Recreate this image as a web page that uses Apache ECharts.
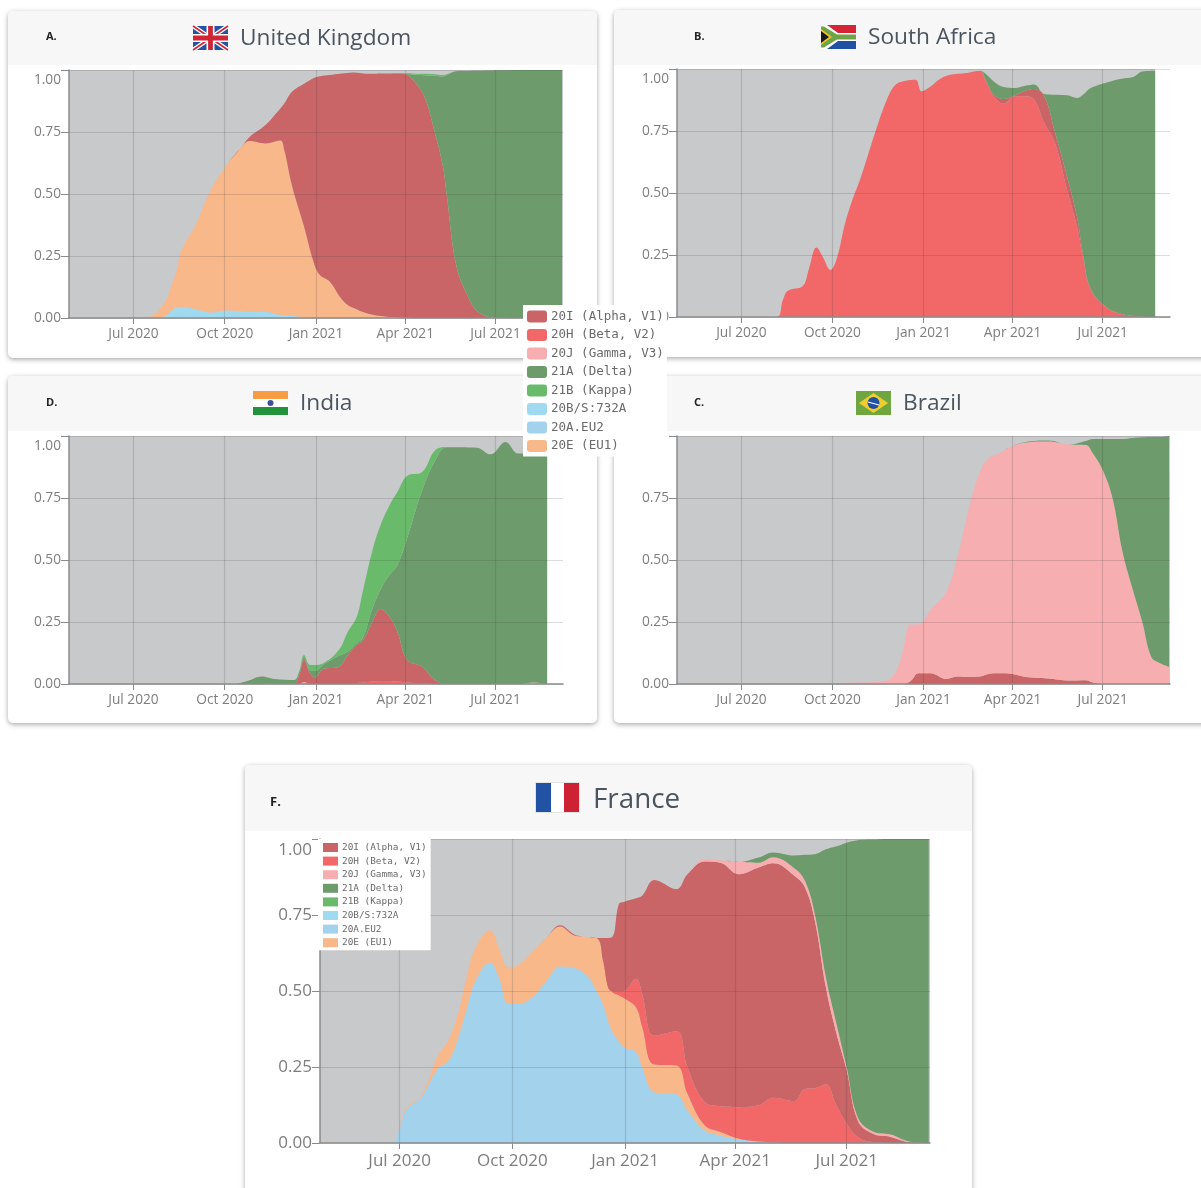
<!DOCTYPE html>
<html><head><meta charset="utf-8">
<style>html,body{margin:0;padding:0;background:#fff}#c{width:1201px;height:1188px}</style>
<script src="https://cdn.jsdelivr.net/npm/echarts@6/dist/echarts.min.js"></script></head>
<body><div id="c"></div>
<script>
const legendNames = ['20I (Alpha, V1)','20H (Beta, V2)','20J (Gamma, V3)','21A (Delta)','21B (Kappa)','20B/S:732A','20A.EU2','20E (EU1)'];
const tickDates = ['2020-07-01','2020-10-01','2021-01-01','2021-04-01','2021-07-01'];
const tickLabels = ['Jul 2020','Oct 2020','Jan 2021','Apr 2021','Jul 2021'];

const ukDates = ['2020-05-01','2020-07-13','2020-08-01','2020-08-09','2020-08-14','2020-08-18','2020-09-01','2020-09-17','2020-10-03','2020-10-18','2020-10-26','2020-11-11','2020-11-26','2020-11-30','2020-12-08','2020-12-20','2020-12-30','2021-01-05','2021-01-15','2021-01-25','2021-02-02','2021-02-08','2021-02-21','2021-03-13','2021-03-27','2021-04-03','2021-04-13','2021-04-21','2021-05-01','2021-05-09','2021-05-13','2021-05-22','2021-06-01','2021-06-15','2021-07-06','2021-08-10','2021-09-06'];
const ukS732A = [0,0,.006,.03,.044,.044,.036,.022,.03,.027,.024,.024,.012,.011,.008,.004,.001,0,0,0,0,0,0,0,0,0,0,0,0,0,0,0,0,0,0,0,0];
const ukEU1 = [0,0,.054,.11,.156,.226,.334,.494,.587,.663,.69,.68,.704,.666,.522,.364,.219,.173,.146,.086,.052,.04,.019,.005,.002,.001,0,0,0,0,0,0,0,0,0,0,0];
const ukAlpha = [0,0,0,0,0,0,0,0,0,0,.016,.074,.129,.188,.383,.577,.748,.802,.834,.899,.936,.95,.966,.981,.984,.979,.94,.886,.745,.61,.489,.22,.106,.019,.001,0,0];
const ukDelta = [0,0,0,0,0,0,0,0,0,0,0,0,0,0,0,0,0,0,0,0,0,0,0,0,.001,.004,.041,.093,.232,.364,.49,.775,.89,.978,.998,1,1];
const ukKappa = [0,0,0,0,0,0,0,0,0,0,0,0,0,0,0,0,0,0,0,0,0,0,0,0,0,.003,.004,.006,.006,.006,.004,0,0,0,0,0,0];

const zaDates = ['2020-05-01','2020-08-05','2020-08-12','2020-08-17','2020-09-01','2020-09-07','2020-09-15','2020-09-21','2020-09-29','2020-10-06','2020-10-13','2020-10-20','2020-10-30','2020-11-13','2020-11-25','2020-12-04','2020-12-14','2020-12-24','2020-12-30','2021-01-06','2021-01-18','2021-01-27','2021-02-14','2021-02-27','2021-03-05','2021-03-13','2021-03-23','2021-04-03','2021-04-15','2021-04-23','2021-05-03','2021-05-14','2021-05-26','2021-06-05','2021-06-11','2021-06-19','2021-07-06','2021-07-20','2021-08-01','2021-08-10','2021-08-23'];
const zaBeta = [0,0,.069,.106,.125,.19,.28,.244,.19,.244,.365,.459,.567,.742,.876,.937,.953,.957,.91,.923,.961,.976,.984,.993,.95,.89,.86,.89,.89,.876,.782,.70,.513,.365,.244,.109,.035,.012,.004,.001,0];
const zaAlpha = [0,0,0,0,0,0,0,0,0,0,0,0,0,0,0,0,0,0,0,0,0,0,0,0,.005,.007,.019,.003,.024,.043,.108,.042,.054,.04,.013,.004,.001,0,0,0,0];
const zaDelta = [0,0,0,0,0,0,0,0,0,0,0,0,0,0,0,0,0,0,0,0,0,0,0,0,.025,.053,.048,.03,.019,.019,.009,.154,.327,.478,.639,.81,.911,.949,.964,.989,.993];

const inDates = ['2020-05-01','2020-10-09','2020-10-24','2020-11-07','2020-11-20','2020-12-10','2020-12-15','2020-12-20','2020-12-26','2020-12-31','2021-01-08','2021-01-24','2021-02-02','2021-02-11','2021-02-17','2021-02-27','2021-03-07','2021-03-16','2021-03-24','2021-04-03','2021-04-18','2021-05-01','2021-05-13','2021-06-12','2021-06-26','2021-07-11','2021-07-24','2021-08-08','2021-08-22'];
const inEU1 = [0,0,0,0,0,0,0,.008,0,0,0,0,0,0,0,0,0,0,0,0,0,0,0,0,0,0,0,.006,0];
const inBeta = [0,0,0,0,0,0,0,0,0,0,0,0,0,.004,.006,.01,.012,.012,.01,.006,.002,0,0,0,0,0,0,0,0];
const inAlpha = [0,0,0,0,.002,.002,.035,.089,.043,.026,.06,.07,.117,.153,.167,.241,.29,.259,.201,.091,.068,.016,0,0,0,0,0,0,0];
const inDelta = [0,0,.012,.03,.018,.014,.013,.009,.013,.026,.017,.044,.013,.008,.011,.054,.078,.169,.268,.493,.71,.884,.955,.953,.926,.976,.929,.923,.929];
const inKappa = [0,0,0,0,0,0,.002,.011,.021,.025,.006,.023,.08,.105,.186,.235,.26,.28,.295,.25,.075,.042,.001,0,0,0,0,0,0];

const brDates = ['2020-05-01','2020-10-18','2020-11-24','2020-12-04','2020-12-11','2020-12-19','2020-12-27','2021-01-08','2021-01-24','2021-02-04','2021-02-15','2021-02-27','2021-03-08','2021-03-18','2021-04-01','2021-04-14','2021-05-07','2021-05-28','2021-06-14','2021-06-21','2021-07-01','2021-07-11','2021-07-21','2021-07-31','2021-08-10','2021-08-19','2021-08-27','2021-09-06'];
const brAlpha = [0,0,0,0,0,.012,.043,.043,.02,.03,.028,.03,.04,.043,.04,.028,.022,.014,.015,.006,0,0,0,0,0,0,0,0];
const brGamma = [0,.005,.013,.05,.13,.228,.197,.255,.352,.477,.667,.826,.87,.887,.92,.946,.956,.952,.949,.924,.863,.749,.534,.386,.251,.11,.086,.07];
const brDelta = [0,0,0,0,0,0,0,0,0,0,0,0,0,0,0,.002,.004,0,.016,.058,.125,.239,.454,.606,.744,.886,.91,.929];

const frDates = ['2020-05-01','2020-05-12','2020-06-24','2020-07-01','2020-07-07','2020-07-18','2020-08-01','2020-08-10','2020-08-18','2020-08-24','2020-09-01','2020-09-13','2020-09-20','2020-09-28','2020-10-05','2020-10-17','2020-10-29','2020-11-09','2020-11-21','2020-12-02','2020-12-10','2020-12-14','2020-12-21','2020-12-27','2020-12-31','2021-01-10','2021-01-15','2021-01-25','2021-02-12','2021-02-21','2021-03-07','2021-03-20','2021-04-04','2021-04-20','2021-05-02','2021-05-19','2021-05-28','2021-06-05','2021-06-14','2021-06-22','2021-07-01','2021-07-10','2021-07-22','2021-08-06','2021-08-21','2021-09-06'];
const frEU2 = [0,0,0,.05,.113,.146,.244,.271,.348,.43,.534,.594,.545,.457,.457,.479,.534,.581,.576,.545,.49,.457,.37,.335,.315,.299,.249,.167,.16,.107,.042,.025,.012,.004,0,0,0,0,0,0,0,0,0,0,0,0];
const frEU1 = [.004,0,0,.005,.005,.003,.041,.069,.082,.104,.109,.106,.098,.121,.126,.148,.142,.131,.106,.133,.181,.143,.13,.15,.162,.147,.132,.091,.095,.055,.016,.011,.002,.001,.002,0,0,0,0,0,0,0,0,0,0,0];
const frBeta = [0,0,0,0,0,0,0,0,0,0,0,0,0,0,0,0,0,0,0,0,0,0,0,.015,.023,.094,.109,.095,.113,.088,.077,.085,.104,.119,.147,.138,.178,.18,.193,.129,.063,.02,.003,0,0,0];
const frAlpha = [0,0,0,0,0,0,0,0,0,0,0,0,0,0,0,0,0,.004,.003,0,.003,.074,.176,.286,.293,.265,.323,.512,.467,.634,.791,.801,.766,.782,.771,.742,.662,.551,.319,.241,.176,.054,.028,.02,.003,0];
const frGamma = [0,0,0,0,0,0,0,0,0,0,0,0,0,0,0,0,0,0,0,0,0,0,0,0,0,0,0,0,0,0,.007,.008,.041,.016,.02,.025,.022,.022,.033,.033,.01,.011,.008,.008,.002,0];
const frDelta = [0,0,0,0,0,0,0,0,0,0,0,0,0,0,0,0,0,0,0,0,0,0,0,0,0,0,0,0,0,0,0,0,0,.017,.016,.041,.086,.197,.421,.572,.739,.911,.959,.972,.995,1];

const colors = {'20I (Alpha, V1)':'#c96566','20H (Beta, V2)':'#f26768','20J (Gamma, V3)':'#f7aeb0','21A (Delta)':'#6d9b6b','21B (Kappa)':'#69bb6b','20B/S:732A':'#a0daf1','20A.EU2':'#a3d2ec','20E (EU1)':'#f8b88a'};
const GREY = '#c8c9cb';
const AXIS_MIN = '2020-04-27', AXIS_MAX = '2021-09-07';
const DAY = 86400000;
const ts = s => +new Date(s + 'T00:00:00');
const tickTs = tickDates.map(ts);

const panels = [
  {rect:[69,70,494,248], font:13.7, end:'2021-09-07', hideTop:false, dates:ukDates,
   layers:[['20B/S:732A',ukS732A],['20E (EU1)',ukEU1],['20I (Alpha, V1)',ukAlpha],['21A (Delta)',ukDelta],['21B (Kappa)',ukKappa]]},
  {rect:[677,69,493,248], font:13.7, end:'2021-08-23', hideTop:false, dates:zaDates,
   layers:[['20H (Beta, V2)',zaBeta],['20I (Alpha, V1)',zaAlpha],['21A (Delta)',zaDelta]]},
  {rect:[69,436,494,248], font:13.7, end:'2021-08-22', hideTop:false, dates:inDates,
   layers:[['20E (EU1)',inEU1],['20H (Beta, V2)',inBeta],['20I (Alpha, V1)',inAlpha],['21A (Delta)',inDelta],['21B (Kappa)',inKappa]]},
  {rect:[677,436,493,248], font:13.7, end:'2021-09-07', hideTop:true, dates:brDates,
   layers:[['20I (Alpha, V1)',brAlpha],['20J (Gamma, V3)',brGamma],['21A (Delta)',brDelta]]},
  {rect:[320,839,610,304], font:17, end:'2021-09-07', hideTop:false, dates:frDates,
   layers:[['20A.EU2',frEU2],['20E (EU1)',frEU1],['20H (Beta, V2)',frBeta],['20I (Alpha, V1)',frAlpha],['20J (Gamma, V3)',frGamma],['21A (Delta)',frDelta]]}
];

const grids=[], xAxes=[], yAxes=[], series=[];
panels.forEach((p,i)=>{
  grids.push({left:p.rect[0],top:p.rect[1],width:p.rect[2],height:p.rect[3],containLabel:false});
  xAxes.push({type:'time',gridIndex:i,min:ts(AXIS_MIN),max:ts(AXIS_MAX),z:5,
    minInterval:95*DAY,maxInterval:100*DAY,
    axisLine:{show:true,onZero:false,lineStyle:{color:'#8a8a8a',width:1.5}},
    axisTick:{show:true,length:6,lineStyle:{color:'#8a8a8a'}},
    splitLine:{show:true,showMinLine:false,showMaxLine:false,lineStyle:{color:'rgba(60,60,60,0.18)',width:1.2}},
    axisLabel:{hideOverlap:false,showMinLabel:false,showMaxLabel:false,margin:i===4?10:9,fontFamily:'Open Sans',fontSize:p.font,color:'#7d7d7d',
      formatter:v=>{const k=tickTs.indexOf(+v);return k<0?'':tickLabels[k];}}});
  yAxes.push({type:'value',gridIndex:i,min:0,max:1,interval:.25,z:5,
    axisLine:{show:true,lineStyle:{color:'#8a8a8a',width:1.5}},
    axisTick:{show:true,length:8,lineStyle:{color:'#8a8a8a'}},
    splitLine:{show:true,lineStyle:{color:'rgba(60,60,60,0.18)',width:1.2}},
    axisLabel:{margin:8,fontFamily:'Open Sans',fontSize:p.font,color:'#7d7d7d',verticalAlignMaxLabel:'top',
      rich:{t:{padding:[3,0,0,0],fontFamily:'Open Sans',fontSize:p.font,color:'#7d7d7d'}},
      formatter:v=>v===1?(p.hideTop?'':'{t|1.00}'):v.toFixed(2)}});
  series.push({type:'line',name:'Unsampled',xAxisIndex:i,yAxisIndex:i,z:1,silent:true,showSymbol:false,
    lineStyle:{width:0},itemStyle:{color:GREY},areaStyle:{color:GREY,opacity:1},
    data:[[ts(AXIS_MIN),1],[ts(p.end),1]]});
  p.layers.forEach(([name,vals])=>{
    series.push({type:'line',name,xAxisIndex:i,yAxisIndex:i,stack:'p'+i,z:2,smooth:.4,
      showSymbol:false,silent:true,lineStyle:{width:0},itemStyle:{color:colors[name]},
      areaStyle:{color:colors[name],opacity:1},
      data:vals.map((v,k)=>[ts(p.dates[k]),v])});
  });
});

function card(x,y,w,h,hdr){return [
  {type:'rect',z:0,shape:{x,y,width:w,height:h,r:5},style:{fill:'#fff',shadowBlur:5,shadowOffsetY:1.5,shadowColor:'rgba(0,0,0,.35)'}},
  {type:'rect',z:0,shape:{x,y,width:w,height:hdr,r:[5,5,0,0]},style:{fill:'#f7f7f7'}}
];}
function txt(x,y,t,size,color,weight){return {type:'text',z:1,x,y,style:{text:t,font:(weight||'400')+' '+size+'px "Open Sans"',fill:color,verticalAlign:'middle'}};}
const R=(x,y,w,h,fill)=>({type:'rect',z:1,shape:{x,y,width:w,height:h},style:{fill}});
const L=(x1,y1,x2,y2,w,c)=>({type:'line',z:1,shape:{x1,y1,x2,y2},style:{stroke:c,lineWidth:w}});
const P=(pts,fill)=>({type:'polygon',z:1,shape:{points:pts},style:{fill}});
function ukFlag(x,y){const w=35,h=24;return [
  R(x,y,w,h,'#2552a3'),
  L(x,y,x+w,y+h,4.5,'#fff'),L(x+w,y,x,y+h,4.5,'#fff'),
  L(x,y,x+w,y+h,1.6,'#d02535'),L(x+w,y,x,y+h,1.6,'#d02535'),
  R(x+w/2-4,y,8,h,'#fff'),R(x,y+h/2-4,w,8,'#fff'),
  R(x+w/2-2.4,y,4.8,h,'#d02535'),R(x,y+h/2-2.4,w,4.8,'#d02535')];}
function zaFlag(x,y){const w=35,h=24;return [
  R(x,y,w,h/2,'#d32535'),R(x,y+h/2,w,h/2,'#1f50a2'),
  P([[x,y],[x+6,y],[x+17,y+8],[x+w,y+8],[x+w,y+16],[x+17,y+16],[x+6,y+h],[x,y+h]],'#fff'),
  P([[x,y+1.5],[x+3,y+1.5],[x+16,y+9.5],[x+w,y+9.5],[x+w,y+14.5],[x+16,y+14.5],[x+3,y+h-1.5],[x,y+h-1.5]],'#6fa544'),
  P([[x,y+4],[x+11,y+12],[x,y+20]],'#f2c230'),
  P([[x,y+6],[x+8,y+12],[x,y+18]],'#1a1a1a')];}
function inFlag(x,y){const w=35,h=24;return [
  R(x,y,w,8,'#f79c42'),R(x,y+8,w,8,'#fff'),R(x,y+16,w,8,'#23933b'),
  {type:'circle',z:1,shape:{cx:x+w/2,cy:y+12,r:3},style:{fill:'#3a4fa0'}}];}
function brFlag(x,y){const w=35,h=24;return [
  R(x,y,w,h,'#6fa63f'),
  P([[x+w/2,y+2],[x+w-3,y+12],[x+w/2,y+22],[x+3,y+12]],'#f0cd2e'),
  {type:'circle',z:1,shape:{cx:x+w/2,cy:y+12,r:6},style:{fill:'#2150a2'}},
  L(x+w/2-5.5,y+11,x+w/2+5.5,y+14,1.2,'#fff')];}
function frFlag(x,y){const w=43,h=29;return [
  R(x-.8,y-.8,w+1.6,h+1.6,'#dcdcdc'),R(x,y,15,h,'#2152a3'),R(x+15,y,13,h,'#fff'),R(x+28,y,15,h,'#cc2233')];}

const graphics=[].concat(
  card(8,11,589,347,54),card(614,10,600,347,55),card(8,376,589,347,55),card(614,376,600,347,55),card(245,765,727,440,66),
  ukFlag(193,26),zaFlag(821,25),inFlag(253,391),brFlag(856,391),frFlag(536,783),
  [txt(46,37,'A.',11,'#222','700'),txt(694,37,'B.',11,'#222','700'),txt(46,403,'D.',11,'#222','700'),txt(694,403,'C.',11,'#222','700'),txt(270,802,'F.',13,'#222','700'),
   txt(240,39,'United Kingdom',22.7,'#4a5560'),txt(868,38,'South Africa',22.7,'#4a5560'),txt(300,404,'India',22.7,'#4a5560'),txt(903,404,'Brazil',22.7,'#4a5560'),txt(593,800,'France',27.8,'#4a5560')]
);

const chart=echarts.init(document.getElementById('c'),null,{renderer:'canvas',width:1201,height:1188});
chart.setOption({
  animation:false,backgroundColor:'#fff',
  graphic:{elements:graphics},
  grid:grids,xAxis:xAxes,yAxis:yAxes,series,
  legend:[
    {data:legendNames,orient:'vertical',left:523,top:305,z:50,selectedMode:false,backgroundColor:'#fff',padding:[5,3,4,4],
     icon:'roundRect',itemWidth:20,itemHeight:12,itemGap:5.5,itemStyle:{borderWidth:0},
     textStyle:{fontFamily:'DejaVu Sans Mono',fontSize:12.5,color:'#6a6a6a',padding:[0,0,0,-1]}},
    {data:legendNames,orient:'vertical',left:318,top:839,z:50,selectedMode:false,backgroundColor:'#fff',padding:[4,4,3,5],
     icon:'rect',itemWidth:15,itemHeight:9,itemGap:4.6,itemStyle:{borderWidth:0},
     textStyle:{fontFamily:'DejaVu Sans Mono',fontSize:9.4,color:'#6a6a6a',padding:[0,0,0,-1]}}
  ]
});
</script></body></html>
